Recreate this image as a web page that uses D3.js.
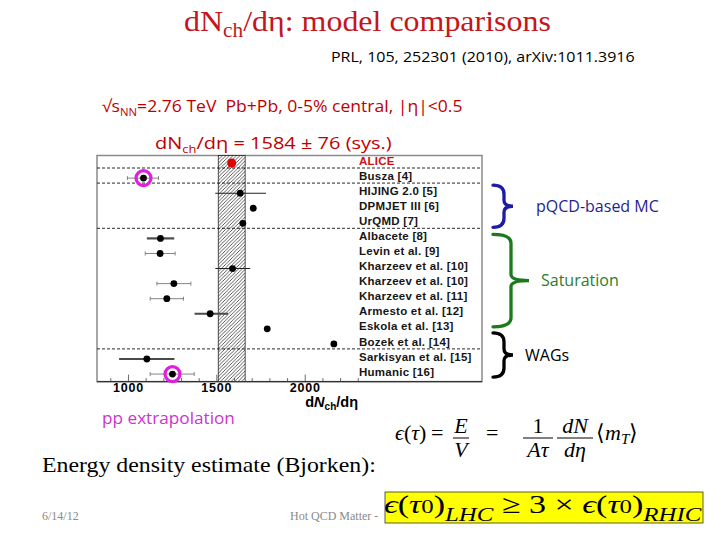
<!DOCTYPE html>
<html>
<head>
<meta charset="utf-8">
<script src="https://cdn.jsdelivr.net/npm/d3@7"></script>
<style>
  body { margin: 0; background: #fff; }
  svg { display: block; }
</style>
</head>
<body>
<svg id="chart" width="720" height="540"></svg>
<script>
// Model predictions for dNch/deta
const models = [
  "ALICE", "Busza [4]", "HIJING 2.0 [5]", "DPMJET III [6]", "UrQMD [7]",
  "Albacete [8]", "Levin et al. [9]", "Kharzeev et al. [10]", "Kharzeev et al. [10]",
  "Kharzeev et al. [11]", "Armesto et al. [12]", "Eskola et al. [13]",
  "Bozek et al. [14]", "Sarkisyan et al. [15]", "Humanic [16]"
];
const values  = [1584, 1085, 1632, 1706, 1647, 1181, 1179, 1589, 1257, 1217, 1462, 1785, 2162, 1104, 1249];
const errLow  = [null,  994, 1491, null, null, 1104, 1095, 1491, 1161, 1123, 1374, null, null,  947, 1123];
const errHigh = [null, 1170, 1778, null, null, 1259, 1264, 1689, 1353, 1311, 1563, null, null, 1260, 1372];
// kind of uncertainty bar drawn in the original figure
const errKind = [null, "cap", "line", null, null, "band", "cap", "line", "cap", "cap", "band", null, null, "band", "cap"];

const aliceValue = 1584;
const aliceSys = 76;
const ppExtrapolated = ["Busza [4]", "Humanic [16]"];
const dashedAfter = [0, 1, 4, 12];        // rows followed by a dashed separator
const majorTicks = [1000, 1500, 2000];
const minorTicks = [900, 1100, 1200, 1300, 1400, 1600, 1700, 1800, 1900, 2100, 2200, 2300];

const groups = [
  { label: "pQCD-based MC", from: 2, to: 4,  color: "#1c1ca6", text: "#1f1f8f" },
  { label: "Saturation",    from: 5, to: 11, color: "#1b7a1b", text: "#2a7d2a" },
  { label: "WAGs",          from: 12, to: 14, color: "#000",    text: "#000" }
];

const svg = d3.select("#chart");
const sans = "'Liberation Sans', Arial, sans-serif";
const slide = "'Open Sans', 'Noto Sans', sans-serif";
const serif = "'Liberation Serif', 'Times New Roman', serif";

// squeeze/stretch a text horizontally so it spans the given width from x
function fit(sel, x, w) {
  const bb = sel.node().getBBox();
  const k = w / bb.width;
  sel.attr("transform", `translate(${x},0) scale(${k},1) translate(${-x},0)`);
  return sel;
}

// ---------- slide headings ----------
const title = svg.append("text")
  .attr("x", 184).attr("y", 31)
  .style("font-family", serif).style("font-size", "30px").attr("fill", "#c4161c");
title.append("tspan").text("dN");
title.append("tspan").attr("dy", 6).style("font-size", "20px").text("ch");
title.append("tspan").attr("dy", -6).text("/dη: model comparisons");
fit(title, 184, 367);

fit(svg.append("text")
  .attr("x", 331).attr("y", 62)
  .style("font-family", slide).style("font-size", "15px").attr("fill", "#000")
  .text("PRL, 105, 252301 (2010), arXiv:1011.3916"), 331, 304);

const sq = svg.append("text")
  .attr("x", 102).attr("y", 112)
  .style("font-family", slide).style("font-size", "17px").attr("fill", "#c00000");
sq.append("tspan").text("√s");
sq.append("tspan").attr("dy", 4).style("font-size", "11px").text("NN");
sq.append("tspan").attr("dy", -4).text("=2.76 TeV\u00a0\u00a0Pb+Pb, 0-5% central, |η|<0.5");
fit(sq, 102, 361);

const dn = svg.append("text")
  .attr("x", 155).attr("y", 149)
  .style("font-family", slide).style("font-size", "17px").attr("fill", "#c00000");
dn.append("tspan").text("dN");
dn.append("tspan").attr("dy", 4).style("font-size", "11px").text("ch");
dn.append("tspan").attr("dy", -4).text(`/dη = ${aliceValue} ± ${aliceSys} (sys.)`);
fit(dn, 155, 237);

// ---------- plot ----------
const frame = { left: 97, right: 482, top: 155.5, bottom: 381.6 };

const x = d3.scaleLinear()
  .domain([822, 3000])
  .range([frame.left, frame.right]);

const y = d3.scaleBand()
  .domain(d3.range(models.length))
  .range([frame.top, frame.bottom])
  .padding(0);
const yc = i => y(i) + y.bandwidth() / 2;

const defs = svg.append("defs");
const hatch = defs.append("pattern")
  .attr("id", "hatch")
  .attr("patternUnits", "userSpaceOnUse")
  .attr("width", 3.5).attr("height", 3.5);
hatch.append("rect").attr("width", 3.5).attr("height", 3.5).attr("fill", "#fff");
hatch.append("path")
  .attr("d", "M-1,1 l2,-2 M0,3.5 l3.5,-3.5 M2.5,4.5 l2,-2")
  .attr("stroke", "#333").attr("stroke-width", 0.8);

const plot = svg.append("g");

plot.append("rect")
  .attr("x", frame.left).attr("y", frame.top)
  .attr("width", frame.right - frame.left).attr("height", frame.bottom - frame.top)
  .attr("fill", "#fff").attr("stroke", "#8a8a8a").attr("stroke-width", 1.5);

// ALICE systematic band
plot.append("rect")
  .attr("x", x(aliceValue - aliceSys))
  .attr("y", frame.top)
  .attr("width", x(aliceValue + aliceSys) - x(aliceValue - aliceSys))
  .attr("height", frame.bottom - frame.top)
  .attr("fill", "url(#hatch)")
  .attr("stroke", "#222").attr("stroke-width", 0.8);

// dashed separators between model families
plot.selectAll("line.sep")
  .data(dashedAfter)
  .join("line")
  .attr("class", "sep")
  .attr("x1", frame.left).attr("x2", frame.right)
  .attr("y1", d => yc(d) + y.bandwidth() * 0.33)
  .attr("y2", d => yc(d) + y.bandwidth() * 0.33)
  .attr("stroke", "#111").attr("stroke-width", 0.9)
  .attr("stroke-dasharray", "3,2");

// axis line and ticks (inward, ROOT style)
plot.append("line")
  .attr("x1", frame.left).attr("x2", frame.right)
  .attr("y1", frame.bottom).attr("y2", frame.bottom)
  .attr("stroke", "#333").attr("stroke-width", 1.2);

plot.selectAll("line.minor")
  .data(minorTicks)
  .join("line")
  .attr("class", "minor")
  .attr("x1", d => x(d)).attr("x2", d => x(d))
  .attr("y1", frame.bottom).attr("y2", frame.bottom - 3.5)
  .attr("stroke", "#444").attr("stroke-width", 0.8);

plot.selectAll("line.major")
  .data(majorTicks)
  .join("line")
  .attr("class", "major")
  .attr("x1", d => x(d)).attr("x2", d => x(d))
  .attr("y1", frame.bottom).attr("y2", frame.bottom - 7)
  .attr("stroke", "#444").attr("stroke-width", 0.8);

plot.selectAll("text.tick")
  .data(majorTicks)
  .join("text")
  .attr("class", "tick")
  .attr("x", d => x(d))
  .attr("y", 392)
  .attr("text-anchor", "middle")
  .style("font-family", sans).style("font-size", "12.5px").style("font-weight", "bold")
  .style("letter-spacing", "0.8px")
  .text(d => d);

const xt = plot.append("text")
  .attr("x", 358).attr("y", 407)
  .attr("text-anchor", "end")
  .style("font-family", sans).style("font-size", "14.5px").style("font-weight", "bold");
xt.append("tspan").text("d");
xt.append("tspan").style("font-style", "italic").text("N");
xt.append("tspan").attr("dy", 3).style("font-size", "10px").text("ch");
xt.append("tspan").attr("dy", -3).text("/dη");

// uncertainty bars
const rows = models.map((m, i) => ({ m, i, v: values[i], lo: errLow[i], hi: errHigh[i], kind: errKind[i] }));
const withErr = rows.filter(d => d.lo != null);

plot.selectAll("line.err")
  .data(withErr)
  .join("line")
  .attr("class", "err")
  .attr("x1", d => x(d.lo)).attr("x2", d => x(d.hi))
  .attr("y1", d => yc(d.i)).attr("y2", d => yc(d.i))
  .attr("stroke", d => d.kind === "band" ? "#4a4a4a" : d.kind === "line" ? "#222" : "#777")
  .attr("stroke-width", d => d.kind === "band" ? 2.2 : d.kind === "line" ? 1.1 : 0.9);

const capped = withErr.filter(d => d.kind === "cap");
plot.selectAll("path.cap")
  .data(capped)
  .join("path")
  .attr("class", "cap")
  .attr("d", d => `M${x(d.lo)},${yc(d.i) - 2}v4M${x(d.hi)},${yc(d.i) - 2}v4`)
  .attr("stroke", "#777").attr("stroke-width", 0.9);

// pp extrapolation markers
plot.selectAll("circle.pp")
  .data(rows.filter(d => ppExtrapolated.includes(d.m)))
  .join("circle")
  .attr("class", "pp")
  .attr("cx", d => x(d.v)).attr("cy", d => yc(d.i))
  .attr("r", 7.5)
  .attr("fill", "none").attr("stroke", "#e01ee0").attr("stroke-width", 3.2);

plot.selectAll("circle.pt")
  .data(rows)
  .join("circle")
  .attr("class", "pt")
  .attr("cx", d => x(d.v)).attr("cy", d => yc(d.i))
  .attr("r", d => d.i === 0 ? 4.5 : 3.4)
  .attr("fill", d => d.i === 0 ? "#e00000" : "#000");

// model labels (sit a little above the marker rows, as in the original)
plot.selectAll("text.model")
  .data(rows)
  .join("text")
  .attr("class", "model")
  .attr("x", 359)
  .attr("y", d => yc(d.i) - 2.5)
  .attr("dy", "0.36em")
  .style("font-family", sans).style("font-size", "11.5px").style("font-weight", "bold")
  .style("letter-spacing", "0.25px")
  .attr("fill", d => d.i === 0 ? "#c81414" : "#161616")
  .text(d => d.m);

// ---------- family braces ----------
function bracePath(x0, x1, xt, y0, y1) {
  const ym = (y0 + y1) / 2, r = Math.min(9, (y1 - y0) / 4);
  return `M${x0},${y0} Q${x1},${y0} ${x1},${y0 + r} L${x1},${ym - r / 1.5} Q${x1},${ym} ${xt},${ym}` +
         ` Q${x1},${ym} ${x1},${ym + r / 1.5} L${x1},${y1 - r} Q${x1},${y1} ${x0},${y1}`;
}
const braceX = [[493, 504, 513], [493, 511, 529], [493, 504, 513]];
const braceInset = [[-8, 4], [-4, -2], [-11, 3]];
groups.forEach((g, k) => {
  const y0 = yc(g.from) + braceInset[k][0], y1 = yc(g.to) + braceInset[k][1];
  const [x0, x1, xtip] = braceX[k];
  svg.append("path")
    .attr("d", bracePath(x0, x1, xtip, y0, y1))
    .attr("fill", "none").attr("stroke", g.color).attr("stroke-width", 3.3)
    .attr("stroke-linecap", "round");
  svg.append("text")
    .attr("x", xtip + (k === 0 ? 23 : 12))
    .attr("y", (y0 + y1) / 2)
    .attr("dy", "0.35em")
    .style("font-family", slide).style("font-size", "16px")
    .attr("fill", g.text)
    .text(g.label);
});

// ---------- lower part of the slide ----------
fit(svg.append("text")
  .attr("x", 102).attr("y", 424)
  .style("font-family", slide).style("font-size", "16px").attr("fill", "#cc33cc")
  .text("pp extrapolation"), 102, 133);

fit(svg.append("text")
  .attr("x", 42).attr("y", 472)
  .style("font-family", serif).style("font-size", "21px").attr("fill", "#000")
  .text("Energy density estimate (Bjorken):"), 42, 334);

// Bjorken formula
const eq = svg.append("g")
  .style("font-family", serif).style("font-size", "22px").attr("fill", "#000");
function eqText(xp, yp, parts, anchor) {
  const t = eq.append("text").attr("x", xp).attr("y", yp).attr("text-anchor", anchor || "start");
  parts.forEach(p => {
    const s = t.append("tspan").text(p[0]);
    if (p[1]) s.style("font-style", "italic");
    if (p[2]) s.attr("dy", p[2]);
    if (p[3]) s.style("font-size", p[3]);
  });
  return t;
}
eqText(395, 440, [["ϵ", 1], ["("], ["τ", 1], [")"]]);
eqText(431, 440, [["="]]);
eqText(461, 433, [["E", 1]], "middle");
eqText(461, 457, [["V", 1]], "middle");
eqText(486, 440, [["="]]);
eqText(538, 433, [["1"]], "middle");
eqText(538, 457, [["A", 1], ["τ", 1]], "middle");
eqText(575, 433, [["dN", 1]], "middle");
eqText(575, 457, [["dη", 1]], "middle");
eqText(596, 440, [["⟨"], ["m", 1], ["T", 1, 4, "15px"], ["⟩", 0, -4]]);
[[453, 469], [523, 553], [557, 593]].forEach(([a, b]) => {
  eq.append("line").attr("x1", a).attr("x2", b).attr("y1", 438).attr("y2", 438)
    .attr("stroke", "#000").attr("stroke-width", 1);
});

// footer
svg.append("text")
  .attr("x", 42).attr("y", 520)
  .style("font-family", serif).style("font-size", "12px").attr("fill", "#8a8a8a")
  .text("6/14/12");
svg.append("text")
  .attr("x", 290).attr("y", 520)
  .style("font-family", serif).style("font-size", "12px").attr("fill", "#8a8a8a")
  .text("Hot QCD Matter -");

// highlighted LHC vs RHIC statement
const box = { x: 385, y: 492, w: 318, h: 31 };
defs.append("clipPath").attr("id", "boxclip")
  .append("rect").attr("x", box.x).attr("y", box.y).attr("width", box.w).attr("height", box.h);
svg.append("rect")
  .attr("x", box.x).attr("y", box.y).attr("width", box.w).attr("height", box.h)
  .attr("fill", "#ffff00");
const hl = svg.append("g").attr("clip-path", "url(#boxclip)")
  .append("text")
  .attr("x", 384).attr("y", 513)
  .style("font-family", serif).style("font-size", "26px").attr("fill", "#000");
[["ϵ", 1], ["("], ["τ", 1], ["0", 0, 0, "19px"], [")"], ["LHC", 1, 8, "19px"], ["\u00a0≥ 3 ×\u00a0", 0, -8],
 ["ϵ", 1], ["("], ["τ", 1], ["0", 0, 0, "19px"], [")"], ["RHIC", 1, 8, "19px"]].forEach(p => {
  const s = hl.append("tspan").text(p[0]);
  if (p[1]) s.style("font-style", "italic");
  if (p[2]) s.attr("dy", p[2]);
  if (p[3]) s.style("font-size", p[3]);
});
fit(hl, 384, 318);
svg.append("rect")
  .attr("x", box.x).attr("y", box.y).attr("width", box.w).attr("height", box.h)
  .attr("fill", "none").attr("stroke", "#333").attr("stroke-width", 0.8);
</script>
</body>
</html>
